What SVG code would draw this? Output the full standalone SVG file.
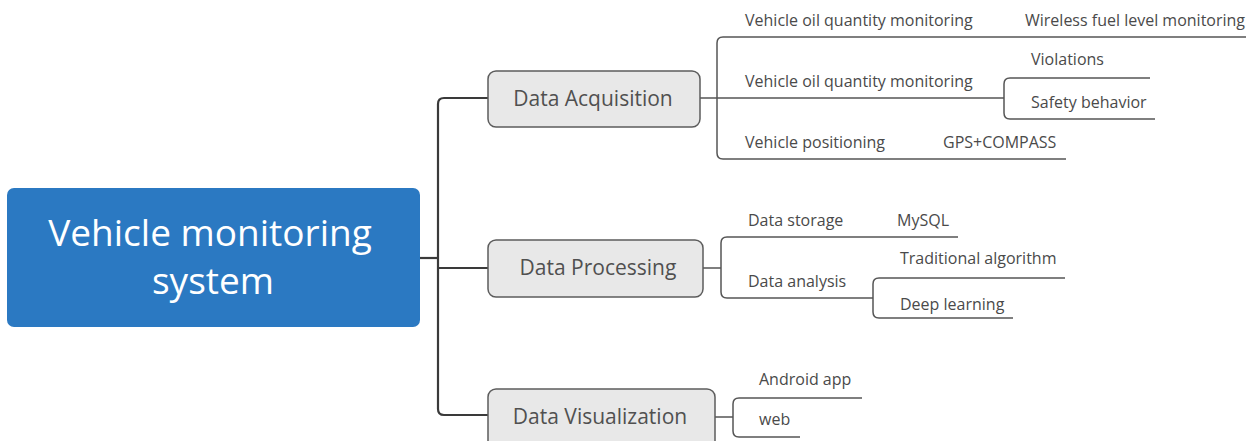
<svg xmlns="http://www.w3.org/2000/svg" width="1246" height="441" viewBox="0 0 1246 441">
  <style>
    .root { fill: #2b79c2; }
    .root-text { font-family: "Open Sans", "Noto Sans", sans-serif; font-size: 37px; fill: #ffffff; text-anchor: middle; }
    .main { fill: #e8e8e8; stroke: #5c5c5c; stroke-width: 1.5; }
    .main-text { font-family: "Open Sans", "Noto Sans", sans-serif; font-size: 21px; fill: #505050; text-anchor: middle; }
    .sub-text { font-family: "Open Sans", "Noto Sans", sans-serif; font-size: 16px; fill: #4a4a4a; }
    .trunk { fill: none; stroke: #3a3a3a; stroke-width: 2.2; }
    .branch { fill: none; stroke: #555555; stroke-width: 1.5; }
  </style>

  <!-- connectors -->
  <g id="connectors">
    <path class="trunk" d="M420,258 H438"/>
    <path class="trunk" d="M488,98 H444 Q438,98 438,104 V409 Q438,415 444,415 H488"/>
    <path class="trunk" d="M438,268 H488"/>

    <path class="branch" d="M700,98 H717"/>
    <path class="branch" d="M1246,37 H723 Q717,37 717,43 V153 Q717,159 723,159 H1066"/>
    <path class="branch" d="M717,98 H1004"/>
    <path class="branch" d="M1150,78 H1010 Q1004,78 1004,84 V113 Q1004,119 1010,119 H1155"/>

    <path class="branch" d="M703,268 H721"/>
    <path class="branch" d="M958,237 H727 Q721,237 721,243 V292 Q721,298 727,298 H873"/>
    <path class="branch" d="M1065,278 H879 Q873,278 873,284 V312 Q873,318 879,318 H1013"/>

    <path class="branch" d="M715,417 H733"/>
    <path class="branch" d="M862,398 H739 Q733,398 733,404 V431 Q733,437 739,437 H800"/>
  </g>

  <!-- central topic -->
  <g id="root">
    <rect class="root" x="7" y="188" width="413" height="139" rx="7"/>
    <text class="root-text" x="210" y="246">Vehicle monitoring</text>
    <text class="root-text" x="213" y="294">system</text>
  </g>

  <!-- main topics -->
  <g id="data-acquisition">
    <rect class="main" x="488" y="71" width="212" height="56" rx="8"/>
    <text class="main-text" x="593" y="106">Data Acquisition</text>
  </g>
  <g id="data-processing">
    <rect class="main" x="488" y="240" width="215" height="57" rx="8"/>
    <text class="main-text" x="598" y="275">Data Processing</text>
  </g>
  <g id="data-visualization">
    <rect class="main" x="488" y="389" width="227" height="60" rx="8"/>
    <text class="main-text" x="600" y="424">Data Visualization</text>
  </g>

  <!-- subtopics: acquisition -->
  <g id="oil-monitoring-1"><text class="sub-text" x="745" y="26">Vehicle oil quantity monitoring</text></g>
  <g id="wireless-fuel"><text class="sub-text" x="1025" y="26">Wireless fuel level monitoring</text></g>
  <g id="oil-monitoring-2"><text class="sub-text" x="745" y="87">Vehicle oil quantity monitoring</text></g>
  <g id="violations"><text class="sub-text" x="1031" y="65">Violations</text></g>
  <g id="safety-behavior"><text class="sub-text" x="1031" y="108">Safety behavior</text></g>
  <g id="positioning"><text class="sub-text" x="745" y="148">Vehicle positioning</text></g>
  <g id="gps-compass"><text class="sub-text" x="943" y="148">GPS+COMPASS</text></g>

  <!-- subtopics: processing -->
  <g id="data-storage"><text class="sub-text" x="748" y="226">Data storage</text></g>
  <g id="mysql"><text class="sub-text" x="897" y="226">MySQL</text></g>
  <g id="data-analysis"><text class="sub-text" x="748" y="287">Data analysis</text></g>
  <g id="traditional-algorithm"><text class="sub-text" x="900" y="264">Traditional algorithm</text></g>
  <g id="deep-learning"><text class="sub-text" x="900" y="310">Deep learning</text></g>

  <!-- subtopics: visualization -->
  <g id="android-app"><text class="sub-text" x="759" y="385">Android app</text></g>
  <g id="web"><text class="sub-text" x="759" y="425">web</text></g>
</svg>
